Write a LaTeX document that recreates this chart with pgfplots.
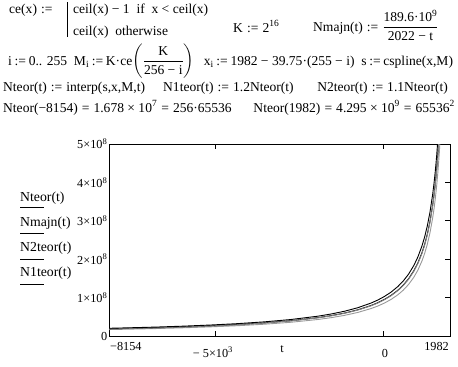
\documentclass[border=0pt]{standalone}
\usepackage{fontspec}
\setmainfont{Liberation Serif}
\usepackage{amsmath}
\usepackage{pgfplots}
\usepackage{pgfplotstable}
\pgfplotsset{compat=1.18}
% t, Nteor, Nmajn, N2teor, N1teor  (values in units of 10^6)
\pgfplotstableread{
t        Nteor    Nmajn    NII      NI
-8154.25 16.777   18.632   18.455   20.133
-7518.25 17.891   19.874   19.680   21.470
-6723.25 19.464   21.681   21.410   23.357
-5928.25 21.430   23.848   23.573   25.716
-5133.25 23.855   26.498   26.241   28.626
-4338.25 26.804   29.810   29.484   32.165
-3543.25 30.671   34.069   33.738   36.805
-2748.25 35.783   39.746   39.361   42.939
-1953.25 42.926   47.695   47.219   51.511
-1555.75 47.710   52.994   52.481   57.252
-1158.25 53.674   59.618   59.041   64.409
-760.75  61.342   68.134   67.476   73.610
-363.25  71.565   79.489   78.722   85.878
-164.5   78.053   86.714   85.858   93.664
34.25    85.852   95.384   94.437   103.022
233      95.420   105.981  104.962  114.504
431.75   107.348  119.226  118.083  128.818
590.75   119.276  132.472  131.204  143.131
749.75   134.218  149.027  147.640  161.062
908.75   153.354  170.312  168.689  184.025
1028     171.770  190.744  188.947  206.124
1147.25  195.166  216.748  214.683  234.199
1226.75  214.696  238.416  236.166  257.635
1306.25  238.551  264.897  262.406  286.261
1385.75  268.435  297.996  295.279  322.122
1465.25  306.774  340.548  337.451  368.129
1505     330.367  366.731  363.404  396.440
1544.75  357.892  397.276  393.681  429.470
1584.5   390.398  433.371  429.438  468.478
1624.25  429.457  476.681  472.403  515.348
1664     477.168  529.609  524.885  572.602
1703.75  536.871  595.758  590.558  644.245
1743.5   613.548  680.000  674.903  736.258
}\data
\newcommand{\op}[1]{\hspace{0.3em}#1\hspace{0.3em}}
\newcommand{\ops}[1]{\hspace{0.2em}#1\hspace{0.2em}}
\begin{document}
\begin{tikzpicture}
\begin{axis}[
  at={(109bp,30bp)}, anchor=south west, scale only axis,
  width=341bp, height=192bp,
  xmin=-8154.25, xmax=1982, ymin=0, ymax=500,
  axis line style={line width=0.9bp},
  tick align=inside, major tick length=5bp,
  tick style={black, line width=0.8bp},
  xtick={-5000,0}, xticklabels={{},{}},
  ytick={0,100,200,300,400,500},
  yticklabels={0,1×10\textsuperscript{8},2×10\textsuperscript{8},3×10\textsuperscript{8},4×10\textsuperscript{8},5×10\textsuperscript{8}},
  ytick pos=right, yticklabel pos=left,
  yticklabel style={font=\fontsize{12.3}{14}\selectfont, inner sep=0pt, xshift=-1.5bp},
]
\addplot[gray!80, line width=0.9bp] table[x=t,y=Nteor]{\data};
\addplot[black, line width=0.9bp] table[x=t,y=Nmajn]{\data};
\addplot[gray, line width=0.9bp] table[x=t,y=NII]{\data};
\addplot[black, line width=0.9bp] table[x=t,y=NI]{\data};
\end{axis}
\begin{scope}[x=1bp,y=1bp]
\path[use as bounding box] (0,0) rectangle (458,366);
% x axis labels
\begin{scope}[every node/.style={inner sep=0pt, font=\fontsize{12.3}{14}\selectfont}]
\node[anchor=base west] at (110,16) {−8154};
\node[anchor=base] at (213,9) {− 5×10\textsuperscript{3}};
\node[anchor=base] at (282,14) {t};
\node[anchor=base] at (385,9) {0};
\node[anchor=base east] at (449,16) {1982};
\end{scope}
% legend
\begin{scope}[every node/.style={inner sep=0pt, font=\fontsize{13.8}{15}\selectfont}]
\node[anchor=base west] at (20,165) {Nteor(t)};
\node[anchor=north west] at (20,159.5) {\rule{24bp}{1.1bp}};
\node[anchor=base west] at (20,140) {Nmajn(t)};
\node[anchor=north west] at (20,133.5) {\rule{24bp}{1.1bp}};
\node[anchor=base west] at (20,115) {N2teor(t)};
\node[anchor=north west] at (20,107.5) {\rule{24bp}{1.1bp}};
\node[anchor=base west] at (20,90) {N1teor(t)};
\node[anchor=north west] at (20,82.5) {\rule{24bp}{1.1bp}};
\end{scope}
% worksheet text
\begin{scope}[every node/.style={inner sep=0pt, font=\fontsize{13.6}{15}\selectfont}]
\node[anchor=base west] at (9,353) {ce(x)\op{:=}};
\node[anchor=south west] at (67,329) {\rule{1.2bp}{35bp}};
\node[anchor=base west] at (73,353) {ceil(x) − 1\ \ if\ \ x < ceil(x)};
\node[anchor=base west] at (73,331) {ceil(x)\ \ otherwise};
\node[anchor=base west] at (233,334) {K\op{:=}2\textsuperscript{16}};
\node[anchor=base west] at (313,335) {Nmajn(t)\op{:=}$\dfrac{\text{189.6·10\textsuperscript{9}}}{\text{2022 − t}}$};
\node[anchor=base west] at (8,301) {i\ops{:=}0.. 255\ \ M\textsubscript{i}\ops{:=}K·ce$\left(\dfrac{\text{K}}{\text{256 − i}}\right)$\hspace{0.7em}x\textsubscript{i}\ops{:=}1982 − 39.75·(255 − i)\ \ s\ops{:=}cspline(x,M)};
\node[anchor=base west] at (3,275) {Nteor(t)\op{:=}interp(s,x,M,t)};
\node[anchor=base west] at (163,275) {N1teor(t)\op{:=}1.2Nteor(t)};
\node[anchor=base east] at (448,275) {N2teor(t)\op{:=}1.1Nteor(t)};
\node[anchor=base west] at (3,254) {Nteor(−8154)\op{=}1.678 × 10\textsuperscript{7}\op{=}256·65536};
\node[anchor=base east] at (455,254) {Nteor(1982)\op{=}4.295 × 10\textsuperscript{9}\op{=}65536\textsuperscript{2}};
\end{scope}
\end{scope}
\end{tikzpicture}
\end{document}
